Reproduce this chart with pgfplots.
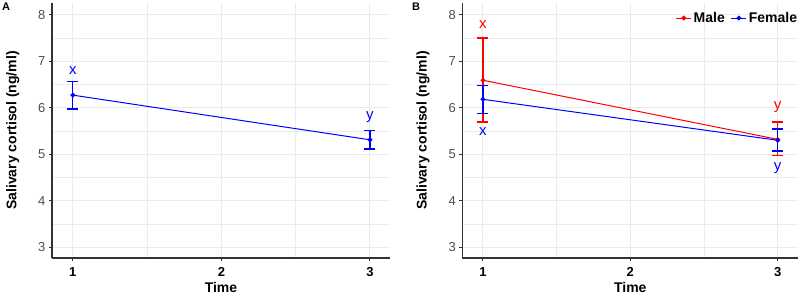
\documentclass[border=0pt]{standalone}
\usepackage{pgfplots}
\pgfplotsset{compat=1.18}
\usepackage{fontspec}
\setmainfont{Liberation Sans}
\definecolor{gridc}{HTML}{EBEBEB}
\definecolor{axc}{HTML}{333333}
\definecolor{tickc}{HTML}{4D4D4D}
\pgfplotsset{
  panel/.style={
    scale only axis, width=338pt, height=255pt,
    xmin=0.86, xmax=3.135, ymin=2.77, ymax=8.25,
    xtick={1,2,3}, ytick={3,4,5,6,7,8},
    minor x tick num=1, minor y tick num=1,
    grid=both,
    major grid style={gridc, line width=0.9pt},
    minor grid style={gridc, line width=0.5pt},
    axis lines*=left,
    axis line style={axc, line width=1.3pt, -},
    tick align=outside, major tick length=3pt, minor tick length=0pt,
    tick style={axc, line width=0.9pt},
    /pgf/number format/assume math mode=true,
    yticklabel style={font=\fontsize{13}{13}\selectfont, text=tickc},
    xticklabel style={font=\bfseries\fontsize{13}{13}\selectfont, text=black, yshift=-3pt},
    xlabel={\bfseries Time}, ylabel={\bfseries Salivary cortisol (ng/ml)},
    label style={font=\fontsize{14}{14}\selectfont},
    xlabel style={yshift=-1pt, inner sep=1pt},
    ylabel style={yshift=12pt},
    clip=false,
  },
  ser/.style={color=#1, line width=1pt, mark=*, mark size=1.9pt,
    error bars/.cd, y dir=both, y explicit, error mark=|,
    error bar style={line width=1.3pt, #1},
    error mark options={#1, mark size=5.5pt, line width=1.3pt}},
}
\begin{document}
\begin{tikzpicture}
\path[use as bounding box] (0pt,0pt) rectangle (800pt,297pt);
\node[anchor=north west, font=\bfseries\fontsize{11}{11}\selectfont, inner sep=0pt] at (2pt,294pt) {A};
\node[anchor=north west, font=\bfseries\fontsize{11}{11}\selectfont, inner sep=0pt] at (412pt,294pt) {B};
\begin{axis}[panel, at={(52pt,39pt)}, anchor=south west]
\addplot[ser=blue] table[x=x, y=y, y error plus=ep, y error minus=em] {
x y ep em
1 6.27 0.30 0.30
3 5.31 0.20 0.20
};
\node[blue, font=\fontsize{15}{15}\selectfont] at (axis cs:1,6.79) {x};
\node[blue, font=\fontsize{15}{15}\selectfont] at (axis cs:3,5.79) {y};
\end{axis}
\begin{axis}[panel, width=336pt, at={(462.3pt,39pt)}, anchor=south west, xmax=3.14,
  legend columns=2,
  legend style={at={(rel axis cs:1,1)}, anchor=north east, draw=none, fill=none,
    font=\bfseries\fontsize{14}{14}\selectfont, yshift=-5pt, xshift=4pt,
    /tikz/every even column/.append style={column sep=4pt}},
  legend image code/.code={\draw[#1, line width=1pt] (0pt,0pt) -- (15pt,0pt); \fill[#1] (7.5pt,0pt) circle (1.9pt);}]
\addplot[ser=red] table[x=x, y=y, y error plus=ep, y error minus=em] {
x y ep em
1 6.59 0.91 0.90
3 5.32 0.37 0.34
};
\addlegendentry{Male}
\addplot[ser=blue] table[x=x, y=y, y error plus=ep, y error minus=em] {
x y ep em
1 6.18 0.29 0.30
3 5.30 0.24 0.23
};
\addlegendentry{Female}
\node[red, font=\fontsize{15}{15}\selectfont] at (axis cs:1,7.78) {x};
\node[blue, font=\fontsize{15}{15}\selectfont] at (axis cs:1,5.48) {x};
\node[red, font=\fontsize{15}{15}\selectfont] at (axis cs:3,6.01) {y};
\node[blue, font=\fontsize{15}{15}\selectfont] at (axis cs:3,4.70) {y};
\end{axis}
\end{tikzpicture}
\end{document}
